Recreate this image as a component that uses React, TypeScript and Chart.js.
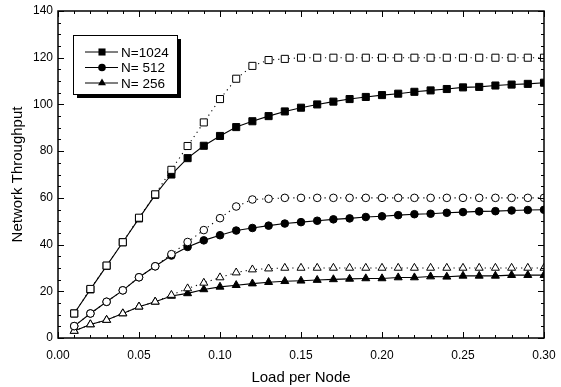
import React, { useEffect, useRef } from "react";
import { Chart, registerables } from "chart.js";

Chart.register(...registerables);

const loads = [0.01, 0.02, 0.03, 0.04, 0.05, 0.06, 0.07, 0.08, 0.09, 0.10, 0.11, 0.12, 0.13, 0.14, 0.15, 0.16, 0.17, 0.18, 0.19, 0.20, 0.21, 0.22, 0.23, 0.24, 0.25, 0.26, 0.27, 0.28, 0.29, 0.30];

const n1024Open = [10.5, 21, 31, 41, 51.5, 61.5, 72, 82.2, 92.3, 102.3, 111, 116.5, 119, 119.5, 120, 120, 120, 120, 120, 120, 120, 120, 120, 120, 120, 120, 120, 120, 120, 120];
const n1024 = [10.5, 20.8, 30.9, 41, 51.2, 61.3, 70, 77, 82.3, 86.5, 90.3, 92.8, 95, 97, 98.6, 100, 101.2, 102.3, 103.2, 104, 104.6, 105.4, 106, 106.6, 107.3, 107.5, 108.1, 108.5, 108.8, 109.3];
const n512Open = [5.1, 10.5, 15.5, 20.4, 26, 30.7, 35.9, 41.1, 46.2, 51.3, 56.3, 59.3, 59.6, 60, 60, 60, 60, 60, 60, 60, 60, 60, 60, 60, 60, 60, 60, 60, 60, 60];
const n512 = [5.1, 10.5, 15.5, 20.4, 26, 30.7, 35.3, 39, 41.8, 44, 46, 47.1, 48.1, 49, 49.6, 50.2, 50.8, 51.2, 51.8, 52.1, 52.6, 53, 53.2, 53.6, 53.9, 54.2, 54.3, 54.6, 54.8, 54.9];
const n256Open = [3, 5.8, 7.7, 10.5, 13.4, 15.5, 18.4, 21.2, 23.6, 25.9, 28, 29.3, 29.7, 30, 30, 30, 30, 30, 30, 30, 30, 30, 30, 30, 30, 30, 30, 30, 30, 30];
const n256 = [3, 5.8, 7.7, 10.5, 13.4, 15.5, 18, 19.1, 20.8, 21.9, 22.6, 23.3, 23.9, 24.3, 24.5, 24.8, 25.1, 25.3, 25.5, 25.5, 25.9, 25.9, 26.3, 26.2, 26.6, 26.6, 26.6, 26.9, 26.9, 26.9];

const legendLabels = ["N=1024", "N= 512", "N= 256"];
const xTicks = [0, 0.05, 0.1, 0.15, 0.2, 0.25, 0.3];

const FONT = "'Liberation Sans', Arial, sans-serif";

function pts(ys: number[]) {
  return loads.map((x, i) => ({ x, y: ys[i] }));
}

const framePlugin = {
  id: "frame",
  afterDatasetsDraw(chart: any) {
    const { ctx, chartArea: a, scales } = chart;
    const xs = scales.x;
    const ys = scales.y;
    ctx.save();
    ctx.strokeStyle = "#000";
    ctx.lineWidth = 1.5;
    ctx.strokeRect(a.left, a.top, a.right - a.left, a.bottom - a.top);
    ctx.lineWidth = 1;
    // x ticks (every 0.01, major every 0.05)
    for (let i = 0; i <= 30; i++) {
      const v = i / 100;
      const px = Math.round(xs.getPixelForValue(v)) + 0.5;
      const len = i % 5 === 0 ? 6 : 3;
      ctx.beginPath();
      ctx.moveTo(px, a.bottom);
      ctx.lineTo(px, a.bottom - len);
      ctx.moveTo(px, a.top);
      ctx.lineTo(px, a.top + len);
      ctx.stroke();
    }
    // y ticks (every 5, major every 20)
    for (let v = 0; v <= 140; v += 5) {
      const py = Math.round(ys.getPixelForValue(v)) + 0.5;
      const len = v % 20 === 0 ? 6 : 3;
      ctx.beginPath();
      ctx.moveTo(a.left, py);
      ctx.lineTo(a.left + len, py);
      ctx.moveTo(a.right, py);
      ctx.lineTo(a.right - len, py);
      ctx.stroke();
    }
    // legend
    const bx = a.left + 15;
    const by = a.top + 24;
    const bw = 104;
    const bh = 59;
    ctx.fillStyle = "#000";
    ctx.fillRect(bx + 4, by + 4, bw, bh);
    ctx.fillStyle = "#fff";
    ctx.fillRect(bx, by, bw, bh);
    ctx.strokeStyle = "#000";
    ctx.lineWidth = 1;
    ctx.strokeRect(bx + 0.5, by + 0.5, bw, bh);
    const legendSets = [1, 3, 5];
    ctx.font = `13.5px ${FONT}`;
    ctx.textBaseline = "middle";
    ctx.textAlign = "left";
    legendSets.forEach((di, k) => {
      const ds = chart.data.datasets[di];
      const ry = by + 17 + k * 15.5;
      ctx.strokeStyle = "#000";
      ctx.lineWidth = 1;
      ctx.beginPath();
      ctx.moveTo(bx + 12, ry);
      ctx.lineTo(bx + 45, ry);
      ctx.stroke();
      ctx.fillStyle = "#000";
      const r = ds.pointRadius;
      const style = ds.pointStyle;
      ctx.beginPath();
      if (style === "rect") {
        const s = Math.SQRT1_2 * r;
        ctx.rect(bx + 29 - s, ry - s, 2 * s, 2 * s);
      } else if (style === "circle") {
        ctx.arc(bx + 29, ry, r, 0, Math.PI * 2);
      } else {
        const h = r * 1.5;
        const w = r * Math.sqrt(3);
        ctx.moveTo(bx + 29, ry - r);
        ctx.lineTo(bx + 29 + w / 2, ry - r + h);
        ctx.lineTo(bx + 29 - w / 2, ry - r + h);
        ctx.closePath();
      }
      ctx.fill();
      ctx.fillStyle = "#000";
      ctx.fillText(legendLabels[k], bx + 48, ry + 1);
    });
    ctx.restore();
  },
};

function makeSet(data: number[], style: string, radius: number, filled: boolean) {
  return {
    data: pts(data),
    borderColor: "#000",
    borderWidth: 1.1,
    borderDash: filled ? [] : [1.2, 4],
    pointStyle: style,
    pointRadius: radius,
    pointBorderWidth: 1,
    pointBorderColor: "#000",
    pointBackgroundColor: filled ? "#000" : "#fff",
    fill: false,
    tension: 0,
  };
}

export default function App() {
  const ref = useRef<HTMLCanvasElement>(null);
  useEffect(() => {
    const chart = new Chart(ref.current as HTMLCanvasElement, {
      type: "line",
      data: {
        datasets: [
          makeSet(n1024Open, "rect", 5, false),
          makeSet(n1024, "rect", 5, true),
          makeSet(n512Open, "circle", 3.8, false),
          makeSet(n512, "circle", 3.8, true),
          makeSet(n256Open, "triangle", 4.6, false),
          makeSet(n256, "triangle", 4.6, true),
        ] as any,
      },
      options: {
        animation: false,
        responsive: false,
        maintainAspectRatio: false,
        layout: { padding: { left: 0, top: 11, right: 17, bottom: 0 } },
        plugins: { legend: { display: false }, tooltip: { enabled: false } },
        scales: {
          x: {
            type: "linear",
            min: 0,
            max: 0.3,
            grid: { display: false, drawTicks: false },
            border: { display: false },
            afterBuildTicks: (s: any) => {
              s.ticks = xTicks.map((v) => ({ value: v }));
            },
            afterFit: (s: any) => {
              s.height = 49;
              s.paddingLeft = 0;
              s.paddingRight = 0;
            },
            ticks: {
              padding: 10,
              color: "#000",
              font: { family: FONT, size: 12 },
              callback: (v: any) => Number(v).toFixed(2),
            },
            title: {
              display: true,
              text: "Load per Node",
              color: "#000",
              font: { family: FONT, size: 15 },
              padding: { top: 4, bottom: 0 },
            },
          },
          y: {
            min: 0,
            max: 140,
            grid: { display: false, drawTicks: false },
            border: { display: false },
            afterFit: (s: any) => {
              s.width = 58;
              s.paddingTop = 0;
              s.paddingBottom = 0;
            },
            ticks: {
              stepSize: 20,
              padding: 5,
              color: "#000",
              font: { family: FONT, size: 12 },
            },
            title: {
              display: true,
              text: "Network Throughput",
              color: "#000",
              font: { family: FONT, size: 15 },
              padding: { top: 9, bottom: 0 },
            },
          },
        },
      },
      plugins: [framePlugin],
    });
    return () => chart.destroy();
  }, []);
  return (
    <div style={{ position: "fixed", left: 0, top: 0, width: 561, height: 387, background: "#fff" }}>
      <canvas ref={ref} width={561} height={387} style={{ width: 561, height: 387 }} />
    </div>
  );
}
